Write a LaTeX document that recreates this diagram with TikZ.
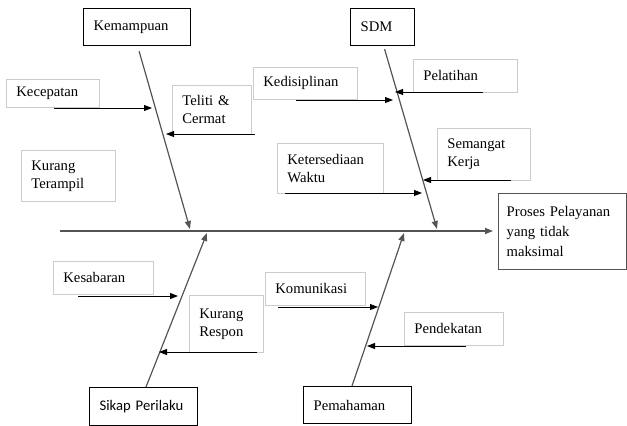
\documentclass[tikz,border=0pt]{standalone}
\usepackage{fontspec}
\setmainfont{Liberation Serif}
\newfontfamily\timesfont{Liberation Serif}
\newfontfamily\calibrifont{Carlito}
\usetikzlibrary{arrows.meta,positioning,calc}

\begin{document}
\begin{tikzpicture}[x=0.75pt,y=-0.75pt,
	mainbox/.style={draw=black,line width=0.9pt,anchor=north west,align=left,inner xsep=7.5pt,inner ysep=0pt,font=\timesfont\fontsize{11}{13.5}\selectfont},
	causebox/.style={draw=framegray,line width=0.6pt,anchor=north west,align=left,inner xsep=7.5pt,inner ysep=0pt,font=\timesfont\fontsize{11}{13.5}\selectfont},
	bone/.style={draw=bonegray,line width=0.9pt,-{Triangle[length=6pt,width=4.5pt]}},
	twig/.style={draw=black,line width=0.7pt,-{Triangle[length=6pt,width=4.5pt]}}]

	\definecolor{framegray}{rgb}{0.80,0.80,0.80}
	\definecolor{bonegray}{rgb}{0.33,0.33,0.33}

	\useasboundingbox (0,0) rectangle (627,425);

	% main categories
	\node(kemampuan)[mainbox,text width=65.25pt,minimum height=27.75pt] at (83,8){Kemampuan};
	\node(sdm)[mainbox,text width=33pt,minimum height=27.75pt] at (350,8){SDM};
	\node(sikap)[mainbox,text width=66pt,minimum height=28.5pt,font=\calibrifont\fontsize{11}{13.5}\selectfont] at (89,387){Sikap Perilaku};
	\node(pemahaman)[mainbox,text width=66pt,minimum height=27.75pt] at (303,386){Pemahaman};
	\node(proses)[mainbox,draw=bonegray,line width=1.1pt,text width=84pt,inner xsep=6pt,minimum height=57pt,font=\timesfont\fontsize{11}{15}\selectfont] at (498,193){Proses Pelayanan\\yang tidak\\maksimal};

	% causes
	\node(kecepatan)[causebox,text width=54.75pt,minimum height=21pt] at (6,79){Kecepatan};
	\node(teliti)[causebox,text width=44.25pt,minimum height=36.75pt] at (172,85){Teliti \&\\Cermat};
	\node(terampil)[causebox,text width=55.5pt,minimum height=38.25pt] at (21,150){Kurang\\Terampil};
	\node(kedisiplinan)[causebox,text width=63pt,minimum height=24pt] at (253,67){Kedisiplinan};
	\node(pelatihan)[causebox,text width=63pt,minimum height=24.75pt] at (413,59){Pelatihan};
	\node(ketersediaan)[causebox,text width=64.5pt,minimum height=37.5pt] at (277,143){Ketersediaan\\Waktu};
	\node(semangat)[causebox,text width=54.75pt,minimum height=39pt] at (437,128){Semangat\\Kerja};
	\node(kesabaran)[causebox,text width=60pt,minimum height=24.75pt] at (53,261){Kesabaran};
	\node(respon)[causebox,text width=40.5pt,minimum height=42.75pt] at (189,295){Kurang\\Respon};
	\node(komunikasi)[causebox,text width=60pt,minimum height=24.75pt] at (265,272){Komunikasi};
	\node(pendekatan)[causebox,text width=59.25pt,minimum height=24.75pt] at (404,312){Pendekatan};

	% spine and bones
	\coordinate(tail) at (60,231);
	\coordinate(jkemampuan) at (190,229);
	\coordinate(jsdm) at (437,229);
	\coordinate(jsikap) at (207,233);
	\coordinate(jpemahaman) at (404,233);

	\draw[bone,line width=1.1pt] (tail) -- ([xshift=-3.75pt]proses.west |- tail);
	\draw[bone] ([xshift=1.5pt,yshift=-3.75pt]kemampuan.south) -- (jkemampuan);
	\draw[bone] ([xshift=1.5pt,yshift=-2.25pt]sdm.south) -- (jsdm);
	\draw[bone] ([xshift=42.75pt]sikap.north west) -- (jsikap);
	\draw[bone] ([xshift=36.75pt]pemahaman.north west) -- (jpemahaman);

	% arrows into the bones
	\coordinate(a1) at (54,108);   \coordinate(b1) at (152,108);
	\coordinate(a2) at (255,134);  \coordinate(b2) at (166,134);
	\coordinate(a3) at (296,100);  \coordinate(b3) at (393,100);
	\coordinate(a4) at (483,92);   \coordinate(b4) at (395,92);
	\coordinate(a5) at (285,193);  \coordinate(b5) at (422,193);
	\coordinate(a6) at (511,180);  \coordinate(b6) at (423,180);
	\coordinate(a7) at (78,296);   \coordinate(b7) at (178,296);
	\coordinate(a8) at (257,352);  \coordinate(b8) at (159,352);
	\coordinate(a9) at (278,307);  \coordinate(b9) at (378,307);
	\coordinate(a10) at (466,346); \coordinate(b10) at (367,346);

	\foreach \i in {1,...,10}
		\draw[twig] (a\i) -- (b\i);

\end{tikzpicture}
\end{document}
